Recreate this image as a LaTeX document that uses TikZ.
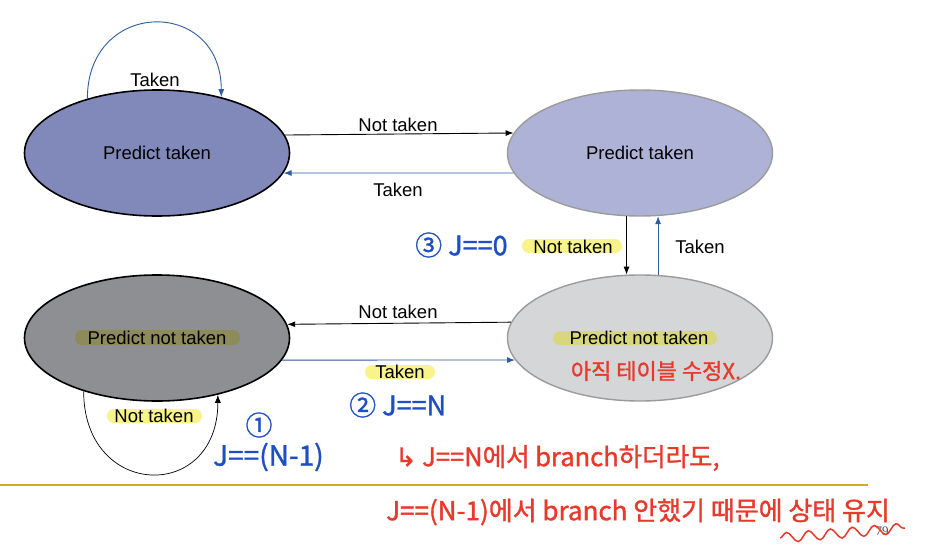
\documentclass[tikz,border=0pt]{standalone}
\usepackage{fontspec}
\setmainfont{Liberation Sans}
\newfontfamily\kr[FakeBold=1.2]{Noto Sans CJK KR}
\newfontfamily\dejavu[FakeBold=1.2]{DejaVu Sans}
\newfontfamily\serifnum{Liberation Serif}
\usetikzlibrary{shapes.geometric,arrows.meta,decorations.pathmorphing}
\definecolor{tlfill}{HTML}{8189BB}
\definecolor{trfill}{HTML}{AEB2D6}
\definecolor{blfill}{HTML}{8E8F93}
\definecolor{brfill}{HTML}{D5D6D8}
\definecolor{edgegray}{HTML}{9B9B9B}
\definecolor{arrowblue}{HTML}{2F5E9E}
\definecolor{hl}{HTML}{F8F38A}
\definecolor{hlolive}{HTML}{8E8B5A}
\definecolor{hlbr}{HTML}{D9D77C}
\definecolor{gold}{HTML}{D6A829}
\definecolor{penred}{HTML}{E8392B}
\definecolor{penblue}{HTML}{1E4EC3}
\tikzset{
 state/.style={ellipse, minimum width=265pt, minimum height=126pt, inner sep=0pt, font=\fontsize{18.5}{20}\selectfont},
 lbl/.style={font=\fontsize{18.5}{20}\selectfont, inner sep=1pt},
 hlband/.style={rounded corners=7pt},
 blk/.style={-{Latex[length=8pt,width=6pt]}, line width=0.9pt, black},
 blu/.style={-{Latex[length=8pt,width=6pt]}, line width=0.9pt, arrowblue},
 redpen/.style={font=\kr\fontsize{22}{24}\selectfont, text=penred, inner sep=0pt},
 bluepen/.style={font=\kr\fontsize{27}{29}\selectfont, text=penblue, inner sep=0pt},
}
\begin{document}
\begin{tikzpicture}[x=1pt,y=-1pt]
\useasboundingbox[fill=white] (0,0) rectangle (930,557);

% states
\node[state, draw=black, line width=1.6pt, fill=tlfill] (tl) at (157,153) {Predict taken};
\node[state, draw=edgegray, line width=1.4pt, fill=trfill] (tr) at (640,153) {Predict taken};
\node[state, draw=black, line width=1.6pt, fill=blfill] (bl) at (157,338) {};
\node[state, draw=edgegray, line width=1.4pt, fill=brfill] (br) at (640,338) {};

% highlight bands
\fill[hlolive, hlband] (75,330) rectangle (240,345);
\fill[hlbr, hlband] (553,331) rectangle (717,345);
\fill[hl, hlband] (522,239) rectangle (622,253);
\fill[hl, hlband] (365,365) rectangle (435,379);
\fill[hl, hlband] (107,409) rectangle (202,423);

\node[lbl] (bltxt) at (bl.center) {Predict not taken};
\node[lbl] (brtxt) at (639,338) {Predict not taken};

% connectors
\draw[blk] (tl.8.1) -- (tr.171.9);
\draw[blu] (tr.189.6) -- (tl.-9.6);
\draw[blk] (tr.-102.6) -- (br.102.6);
\draw[blu] (br.74.8) -- (tr.-74.8);
\draw[blk] (br.173.3) -- (bl.6.7);
\draw[blu] (bl.-10.6) -- (br.190.6);
\draw[blu] (tl.142) .. controls +(0,-100) and +(0,-100) .. (tl.41.3);
\draw[blk, line width=0.7pt] (bl.-144.3) .. controls +(0,108) and +(0,108) .. (bl.-43.7);

% labels
\node[lbl] (l1) at (398,125) {Not taken};
\node[lbl] (l2) at (398,190) {Taken};
\node[lbl] (l3) at (155,80) {Taken};
\node[lbl] (l4) at (573,247) {Not taken};
\node[lbl] (l5) at (700,247) {Taken};
\node[lbl] (l6) at (398,312) {Not taken};
\node[lbl] (l7) at (400,372) {Taken};
\node[lbl] (l8) at (154,416) {Not taken};

% separator and page number
\draw[gold, line width=2.5pt] (0,485) -- (868,485);
\node[font=\serifnum\fontsize{13}{14}\selectfont, text=black!70] (pg) at (882,531) {79};

% handwritten notes
\node[redpen] (r1) at (656,371) {아직 테이블 수정X.};
\node[redpen, font=\kr\fontsize{25.5}{27}\selectfont, anchor=west] (r2) at (395,458) {{\dejavu ↳} J==N에서 branch하더라도,};
\node[redpen, font=\kr\fontsize{26}{28}\selectfont, anchor=west] (r3) at (386,512) {J==(N-1)에서 branch 안했기 때문에 상태 유지};
\draw[penred, line width=1.5pt, decorate, decoration={snake, amplitude=5pt, segment length=22pt}] (780,538) -- (905,528);

\node[bluepen, anchor=west] (b3) at (415,245) {③ J==0};
\node[bluepen, anchor=west] (b2) at (349,405) {② J==N};
\node[bluepen] (b1) at (259,425) {①};
\node[bluepen, font=\kr\fontsize{28}{30}\selectfont, anchor=west] (b1t) at (213,457) {J==(N-1)};
\end{tikzpicture}
\end{document}
